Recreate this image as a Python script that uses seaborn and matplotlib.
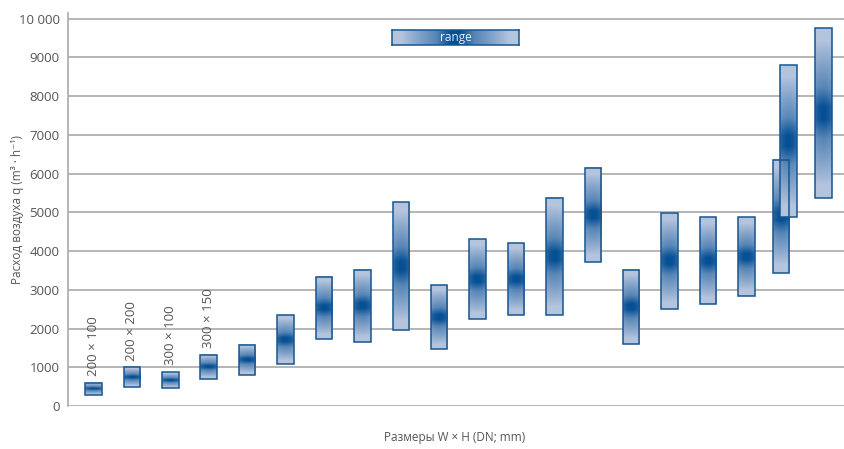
import numpy as np
import pandas as pd
import matplotlib
matplotlib.use("Agg")
import matplotlib.pyplot as plt
import seaborn as sns

# Диапазоны расхода воздуха по типоразмерам
pos = [0, 1, 2, 3, 4, 5, 6, 7, 8, 9, 10, 11, 12, 13, 14, 15, 16, 17, 17.9, 18.1, 19]
low = [290, 500, 470, 700, 790, 1090, 1720, 1660, 1970, 1480, 2250, 2350, 2350,
       3720, 1610, 2500, 2640, 2850, 3430, 4880, 5380]
high = [600, 1000, 880, 1320, 1580, 2350, 3330, 3520, 5270, 3130, 4300, 4200, 5380,
        6150, 3520, 4980, 4880, 4880, 6350, 8800, 9760]
labels = ["200 × 100", "200 × 200", "300 × 100", "300 × 150"]

df = pd.DataFrame({"pos": pos, "low": low, "high": high})

sns.set_theme(style="white")
plt.rcParams["font.family"] = ["Open Sans", "DejaVu Sans"]

light = np.array([0.71, 0.77, 0.87])
dark = np.array([0.02, 0.31, 0.58])
edge = "#17558f"
txt = "#555555"
width = 0.43


def profile(n):
    t = np.abs(np.linspace(-1, 1, n))
    lin = np.clip(1 - t / 0.85, 0, 1)
    core = np.clip(1 - t / 0.3, 0, 1)
    return np.clip(0.8 * lin ** 0.9 + 0.35 * core, 0, 1)


def gradient(n, m, vertical=True):
    a = profile(n)
    if vertical:
        s = np.linspace(-1, 1, m)
        w = a[:, None] * (1 - 0.2 * s[None, :] ** 2)
    else:
        w = np.tile(a[None, :], (m, 1))
    return light * (1 - w[..., None]) + dark * w[..., None]


fig = plt.figure(figsize=(8.44, 4.49), dpi=100)
ax = fig.add_axes([68 / 844, 1 - 406 / 449, 1 - 68 / 844, (406 - 12.7) / 449])

for _, r in df.iterrows():
    x0 = r["pos"] - width / 2
    ax.imshow(gradient(200, 20), extent=[x0, x0 + width, r["low"], r["high"]],
              aspect="auto", origin="lower", zorder=3, interpolation="bilinear")

ax.bar(df["pos"], df["high"] - df["low"], bottom=df["low"], width=width,
       fill=False, edgecolor=edge, linewidth=1.1, zorder=4)

for i, lab in enumerate(labels):
    ax.text(pos[i], high[i] + 170, lab, rotation=90, ha="center", va="bottom",
            fontsize=9.5, color=txt, zorder=5)

ax.set_xlim(-0.664, 19.54)
ax.set_ylim(0, 10150)
ticks = list(range(0, 10001, 1000))
ax.set_yticks(ticks)
ax.set_yticklabels([str(t) if t < 10000 else "10 000" for t in ticks], fontsize=9.5, color=txt)
ax.set_xticks([])
ax.tick_params(axis="y", length=0, pad=6)
ax.yaxis.grid(True, color="#a9a9a9", linewidth=1.2, zorder=0)
ax.set_axisbelow(True)
sns.despine(ax=ax, top=True, right=True, bottom=True)
ax.spines["left"].set_color("#a9a9a9")
ax.spines["left"].set_linewidth(1.2)

ax.set_ylabel("Расход воздуха q (m³ · h⁻¹)", fontsize=8.5, color=txt)
ax.yaxis.set_label_coords(-44 / 776, 0.5)
fig.text(455 / 844, 1 - 438 / 449, "Размеры W × H (DN; mm)", ha="center", va="center",
         fontsize=8.5, color=txt)

# легенда
lax = fig.add_axes([392 / 844, 1 - 45 / 449, 127 / 844, 15 / 449])
lax.imshow(gradient(200, 20, vertical=False), aspect="auto", extent=[0, 1, 0, 1],
           interpolation="bilinear")
lax.set_xticks([])
lax.set_yticks([])
for s in lax.spines.values():
    s.set_color(edge)
    s.set_linewidth(1.1)
lax.text(0.5, 0.5, "range", ha="center", va="center", color="#e8eef7", fontsize=8.5,
         transform=lax.transAxes)

fig.savefig("out.png", dpi=100)
